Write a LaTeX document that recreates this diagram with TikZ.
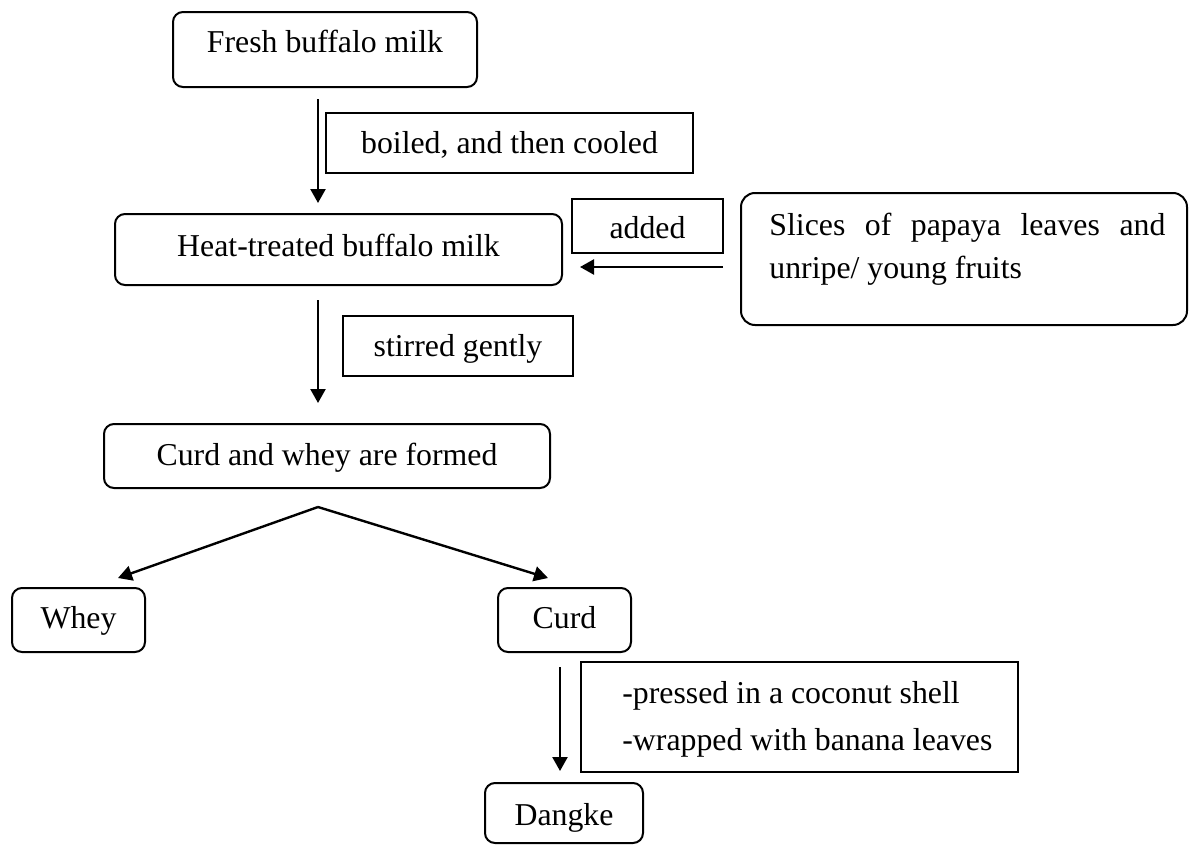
\documentclass[tikz,border=0pt]{standalone}
\usepackage{fontspec}
\setmainfont{Liberation Serif}
\usetikzlibrary{arrows.meta}
\tikzset{
  basetext/.style={font=\fontsize{15.9}{21.5}\selectfont, inner sep=0pt, line width=1pt},
  rbox/.style={basetext, draw, rounded corners=5pt},
  sbox/.style={basetext, draw},
  linetxt/.style={font=\fontsize{15.9}{21.5}\selectfont, inner sep=0pt, anchor=base west},
  arr/.style={line width=1.2pt, -{Triangle[length=7pt,width=7.5pt]}},
}
\begin{document}
\begin{tikzpicture}[x=0.5pt,y=-0.5pt]
\fill[white] (0,0) rectangle (1189,846);
\useasboundingbox (0,0) rectangle (1189,846);

% boxes
\node[rbox, minimum width=152pt, minimum height=37.5pt, text height=20.5pt, text depth=17pt] (fresh) at (325,49.5) {Fresh buffalo milk};
\node[sbox, minimum width=183.5pt, minimum height=30pt, text height=20pt, text depth=10pt] (boiled) at (509.5,143) {boiled, and then cooled};
\node[rbox, minimum width=223.5pt, minimum height=35.5pt, text height=21pt, text depth=14.5pt] (heat) at (338.5,249.5) {Heat-treated buffalo milk};
\node[sbox, minimum width=75.5pt, minimum height=27pt, text height=19.5pt, text depth=7.5pt] (added) at (647.5,226) {added};
\node[rbox, rounded corners=7pt, minimum width=223pt, minimum height=66pt] (papaya) at (964,259) {};
\node[linetxt] (papayaA) at (769,235) {\makebox[198pt][s]{Slices of papaya leaves and}};
\node[linetxt] (papayaB) at (769,278) {unripe/ young fruits};
\node[sbox, minimum width=115pt, minimum height=30pt, text height=20pt, text depth=10pt] (stirred) at (458,346) {stirred gently};
\node[rbox, minimum width=223pt, minimum height=32pt, text height=20.5pt, text depth=11.5pt] (cw) at (327,456) {Curd and whey are formed};
\node[rbox, minimum width=66.5pt, minimum height=32pt, text height=20pt, text depth=12pt] (whey) at (78.5,620) {Whey};
\node[rbox, minimum width=66.5pt, minimum height=32pt, text height=20pt, text depth=12pt] (curd) at (564.5,620) {Curd};
\node[sbox, minimum width=218.5pt, minimum height=55pt] (pressed) at (799.5,717) {};
\node[linetxt] (pressedA) at (622,703) {-pressed in a coconut shell};
\node[linetxt] (pressedB) at (622,750) {-wrapped with banana leaves};
\node[rbox, minimum width=79pt, minimum height=30pt, text height=21pt, text depth=9pt] (dangke) at (564,813) {Dangke};

% connector end points
\coordinate (a1s) at (318,99);
\coordinate (a1e) at (318,203);
\coordinate (a2s) at (318,300);
\coordinate (a2e) at (318,403);
\coordinate (lfs) at (723,267);
\coordinate (lfe) at (580,267);
\coordinate (apex) at (318,507);
\coordinate (wtip) at (118,578);
\coordinate (ctip) at (548,578);
\coordinate (a3s) at (560,667);
\coordinate (a3e) at (560,771);

% connectors
\draw[arr] (a1s) -- (a1e);
\draw[arr] (a2s) -- (a2e);
\draw[arr] (lfs) -- (lfe);
\draw[arr] (apex) -- (wtip);
\draw[arr] (apex) -- (ctip);
\draw[arr] (a3s) -- (a3e);
\end{tikzpicture}
\end{document}
